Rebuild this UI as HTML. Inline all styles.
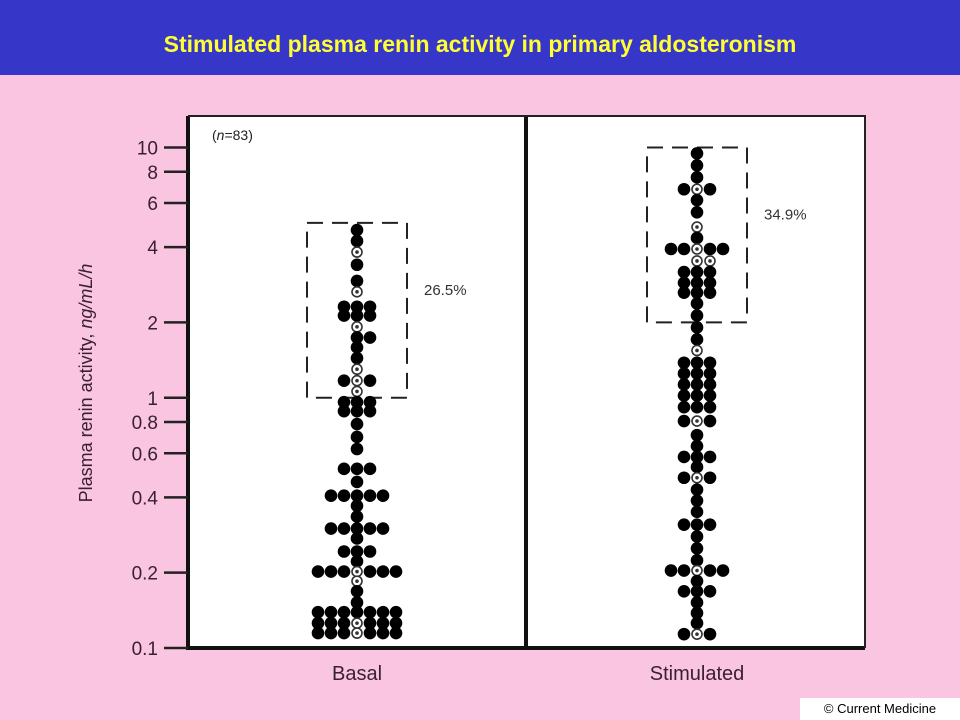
<!DOCTYPE html>
<html><head><meta charset="utf-8"><style>
html,body{margin:0;padding:0;width:960px;height:720px;overflow:hidden;background:#f9c5e0;font-family:"Liberation Sans",sans-serif}
#hdr{position:absolute;left:0;top:0;width:960px;height:75px;background:#3636c8;color:#ffff33;font-weight:bold;font-size:23px;text-align:center;line-height:92px}
#hdr span{position:relative;top:-2px}
svg{position:absolute;left:0;top:0}
#cm{position:absolute;left:800px;top:698px;width:160px;height:22px;background:#fff;font-size:13px;line-height:22px;text-align:center;color:#000}
</style></head><body>
<div id="hdr"><span>Stimulated plasma renin activity in primary aldosteronism</span></div>
<svg id="chart" width="960" height="720"></svg>
<div id="cm">© Current Medicine</div>
<script>
const tickValues=[10,8,6,4,2,1,0.8,0.6,0.4,0.2,0.1];
const tickLabels=["10","8","6","4","2","1","0.8","0.6","0.4","0.2","0.1"];
const groups=["Basal","Stimulated"];
const basalValues=[4.68,4.23,3.82,3.40,2.93,2.65,2.31,2.13,1.92,1.74,1.59,1.44,1.30,1.17,1.06,0.96,0.884,0.785,0.697,0.624,0.520,0.461,0.406,0.370,0.335,0.300,0.274,0.243,0.222,0.202,0.185,0.1685,0.152,0.139,0.1257,0.1147];
const basalRows=["F","F","O","F","F","O","FFF","FFF","O",".FF","F","F","O","FOF","O","FFF","FFF","F","F","F","FFF","F","FFFFF","F","F","FFFFF","F","FFF","F","FFFOFFF","O","F","F","FFFFFFF","FFFOFFF","FFFOFFF"];
const stimValues=[9.47,8.48,7.60,6.81,6.16,5.51,4.81,4.35,3.93,3.52,3.18,2.88,2.63,2.38,2.13,1.91,1.71,1.545,1.38,1.25,1.13,1.02,0.917,0.807,0.709,0.641,0.580,0.529,0.479,0.429,0.388,0.350,0.311,0.279,0.250,0.224,0.204,0.185,0.1685,0.152,0.138,0.1257,0.1136];
const stimRows=["F","F","F","FOF","F","F","O","F","FFOFF",".OO","FFF","FFF","FFF","F","F","F","F","O","FFF","FFF","FFF","FFF","FFF","FOF","F","F","FFF","F","FOF","F","F","F","FFF","F","F","F","FFOFF","F","FFF","F","F","F","FOF"];
const boxLow=[1,2],boxHigh=[5,10];
const percents=["26.5%","34.9%"];
const nLabel="(n=83)";

const NS="http://www.w3.org/2000/svg";
const svg=document.getElementById('chart');
const Y0=648,Y1=147.5; // 0.1 -> Y0, 10 -> Y1
function y(v){return Y0+(Math.log10(v)+1)/2*(Y1-Y0);}
const groupX=[357,697];
function mk(t,a,p){const e=document.createElementNS(NS,t);for(const k in a)e.setAttribute(k,a[k]);(p||svg).appendChild(e);return e;}

let frame=mk('rect',{x:188,y:116,width:677,height:532,fill:'#fff',stroke:'none'});


let ax=mk('path',{d:'M188,116 V648 H865 M526,116 V648',stroke:'#111',fill:'none','stroke-width':4});


let border=mk('path',{d:'M188,116 H865 V648',stroke:'#222',fill:'none','stroke-width':2});



tickValues.forEach((v,i)=>{
  const ty=y(v);
  const l=mk('line',{x1:164,x2:188,y1:ty,y2:ty,stroke:'#222','stroke-width':2.5});
  
  
  const t=mk('text',{x:158,y:ty+7,'text-anchor':'end','font-size':19,fill:'#3a2030'});
  t.textContent=tickLabels[i];
  
  
});
const yt=mk('text',{x:0,y:0,transform:'translate(92,383) rotate(-90)','text-anchor':'middle','font-size':18,fill:'#3a2030'});
yt.innerHTML='Plasma renin activity, <tspan font-style="italic">ng/mL/h</tspan>';



groups.forEach((g,i)=>{
  const t=mk('text',{x:groupX[i],y:680,'text-anchor':'middle','font-size':20,fill:'#3a2030'});
  t.textContent=g;
  
  
  const bx=groupX[i]-50;
  const r=mk('rect',{x:bx,y:y(boxHigh[i]),width:100,height:y(boxLow[i])-y(boxHigh[i]),fill:'none',stroke:'#222','stroke-width':2,'stroke-dasharray':'16,9'});
  
  
  const p=mk('text',{x:groupX[i]+67,y:y(boxHigh[i])+72,'font-size':15,fill:'#333'});
  p.textContent=percents[i];
  
  
});
const n=mk('text',{x:212,y:140,'font-size':14,fill:'#222'});
n.innerHTML='(<tspan font-style="italic">n</tspan>=83)';



function drawDots(vals,rows,cx){
  vals.forEach((v,i)=>{
    const pat=rows[i],half=(pat.length-1)/2,cy=y(v);
    for(let k=0;k<pat.length;k++){
      const c=pat[k];if(c==='.')continue;
      const x=cx+(k-half)*13;
      if(c==='F'){
        const d=mk('circle',{cx:x,cy:cy,r:6.3,fill:'#000'});
        
        
      }else{
        const d=mk('circle',{cx:x,cy:cy,r:5,fill:'#fff',stroke:'#333','stroke-width':1.6});
        
        
        mk('circle',{cx:x,cy:cy,r:1.8,fill:'#333'});
      }
    }
  });
}
drawDots(basalValues,basalRows,groupX[0]);
drawDots(stimValues,stimRows,groupX[1]);
</script>
</body></html>
